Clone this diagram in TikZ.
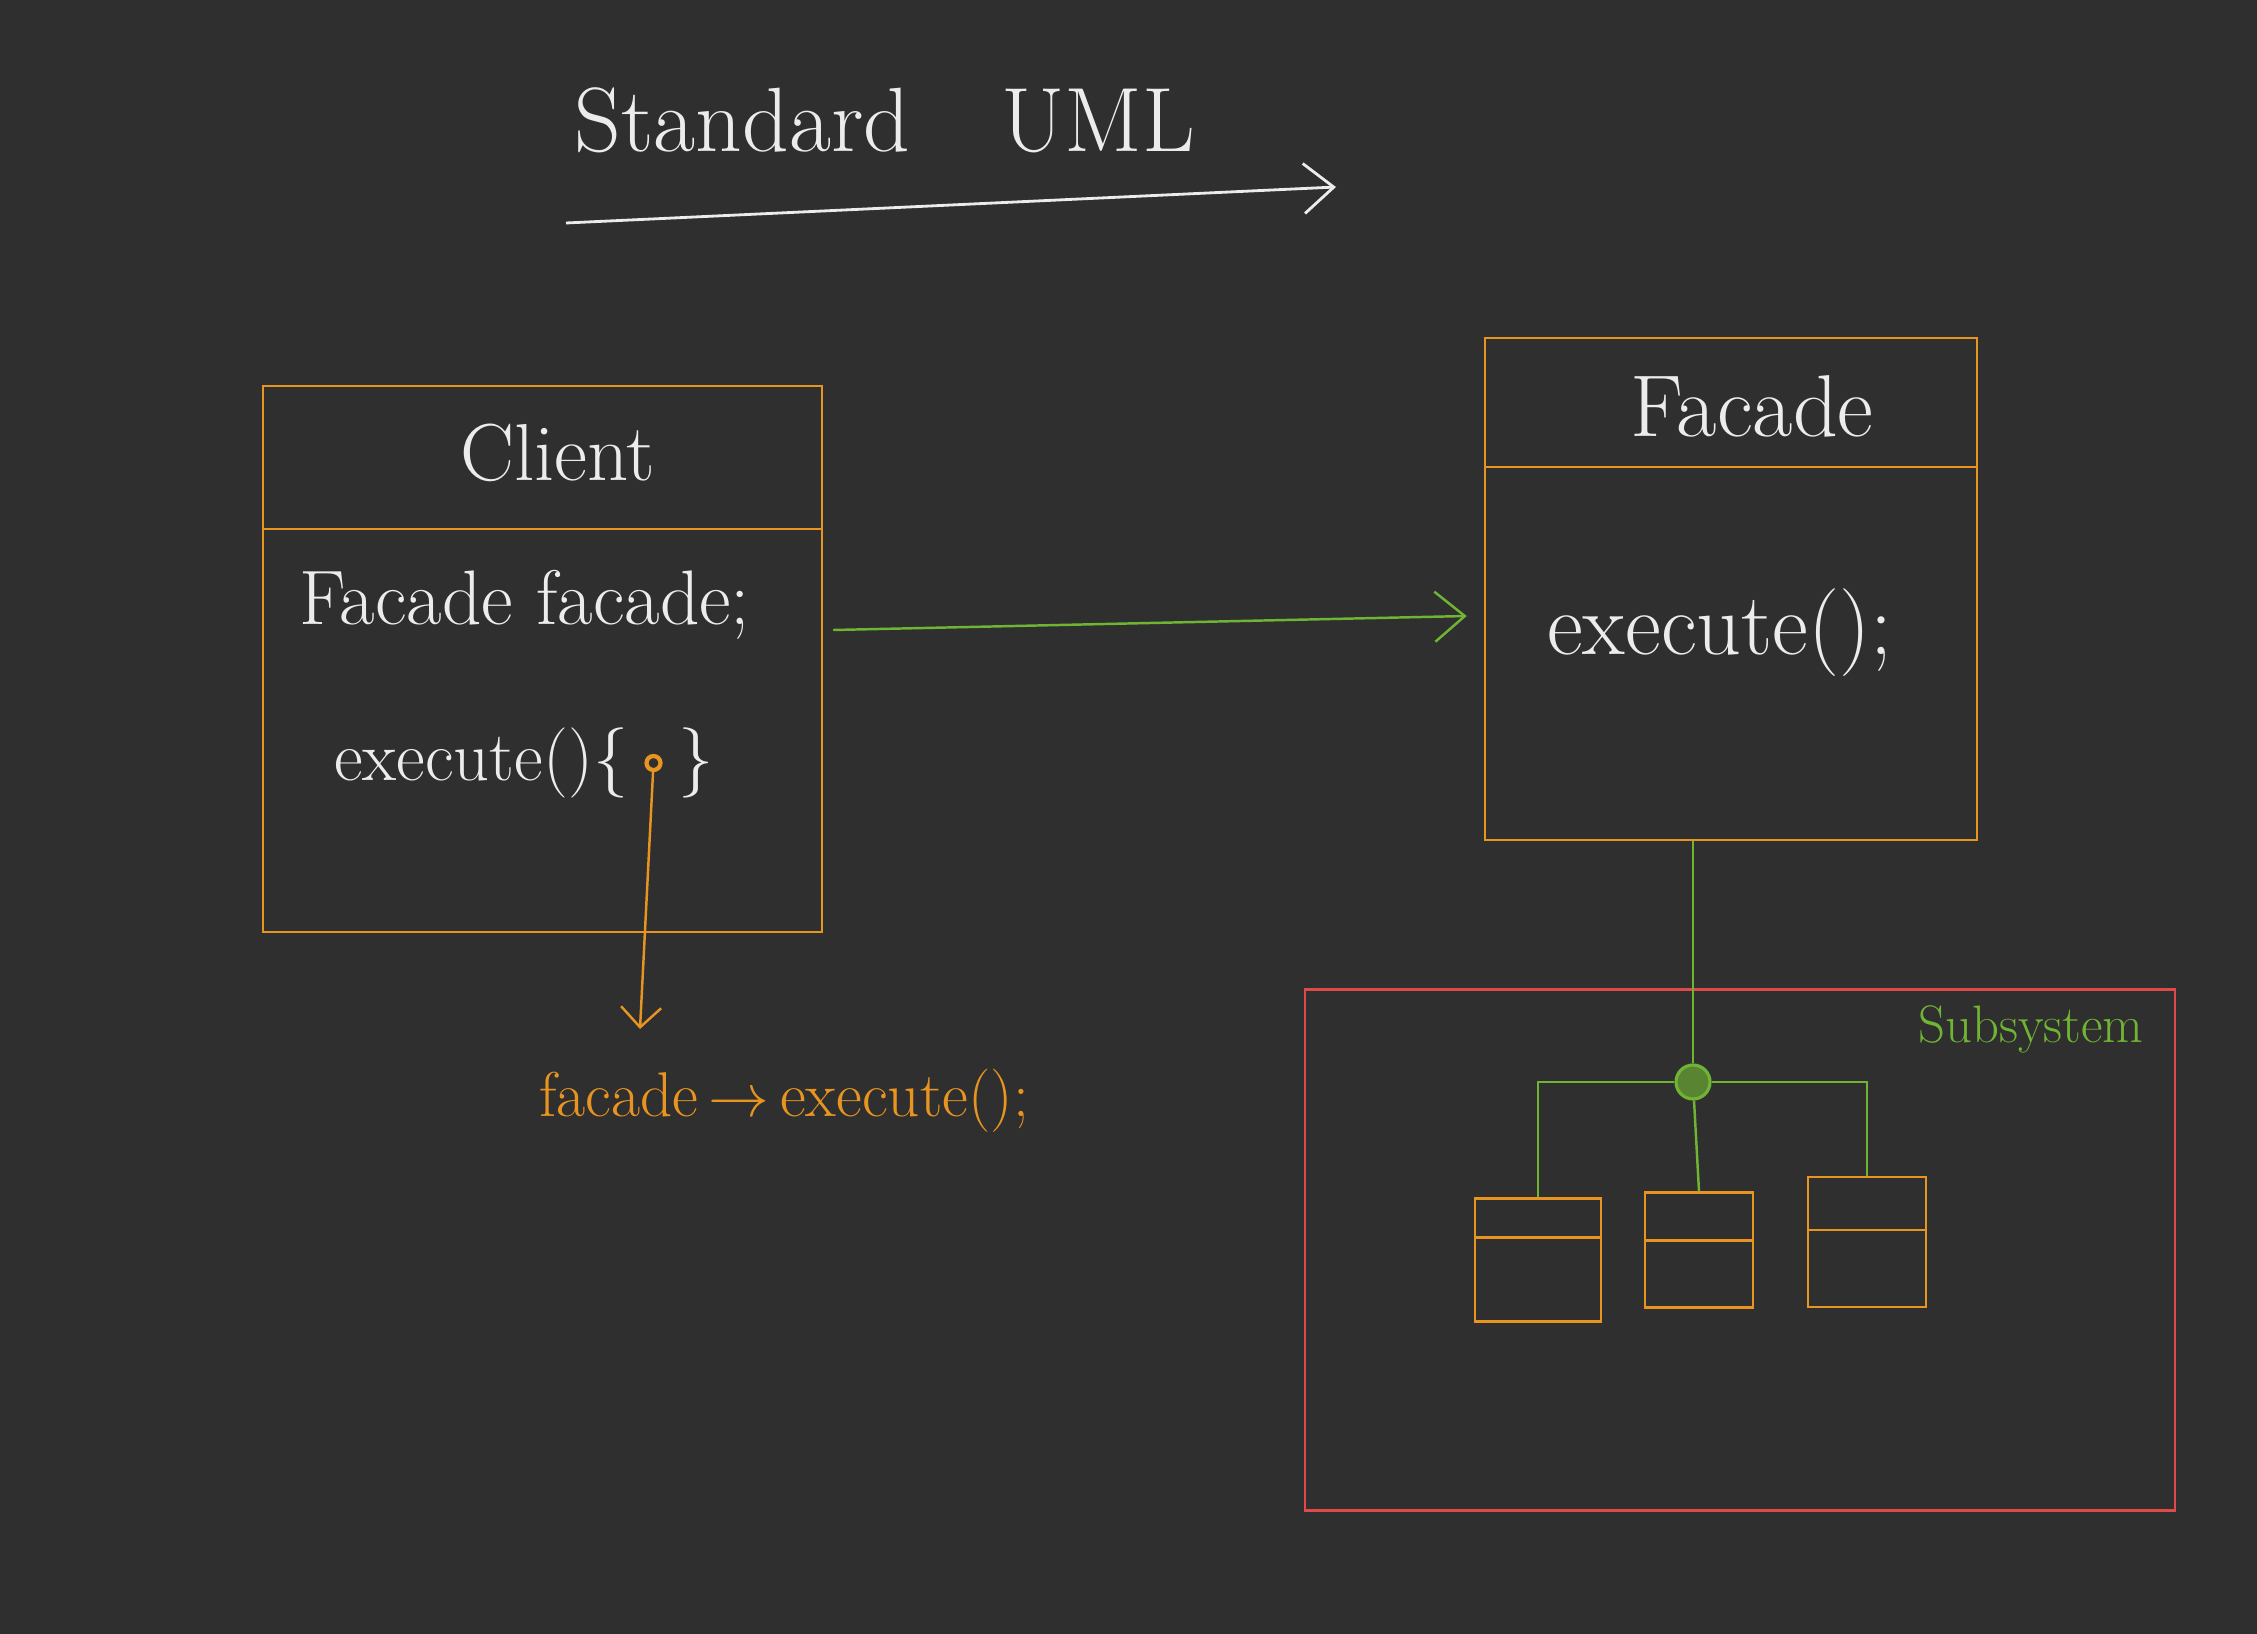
\documentclass[tikz,border=0pt]{standalone}
\usetikzlibrary{calc,positioning,arrows.meta}
\definecolor{board}{RGB}{47,47,47}
\definecolor{chalk}{RGB}{236,236,236}
\definecolor{pen}{RGB}{232,148,32}
\definecolor{leaf}{RGB}{112,180,52}
\definecolor{brick}{RGB}{222,74,74}

\begin{document}
\begin{tikzpicture}[
>={Straight Barb[length=3mm,width=5mm]},
classbox/.style={
	draw=pen,
	line width=0.7pt,
	rectangle,
	inner sep=0pt
},
groupbox/.style={
	draw=brick,
	line width=0.7pt,
	rectangle,
	inner sep=0pt
},
divider/.style={
	draw=pen,
	line width=0.7pt
},
heading/.style={
	text=chalk,
	inner sep=1pt,
	font=\fontsize{25}{30}\selectfont
},
member/.style={
	text=chalk,
	inner sep=1pt,
	font=\fontsize{20}{24}\selectfont
},
calldot/.style={
	circle,
	draw=pen,
	line width=1.2pt,
	minimum size=0.14cm,
	inner sep=0pt
},
hub/.style={
	circle,
	draw=leaf,
	fill=leaf!65!board,
	line width=0.9pt,
	minimum size=0.34cm,
	inner sep=0pt
},
underline/.style={
	draw=chalk,
	line width=0.8pt
},
assoc/.style={
	draw=leaf,
	line width=0.7pt
},
link/.style={
	draw=leaf,
	line width=0.7pt
},
call/.style={
	draw=pen,
	line width=0.7pt
}
]
\fill[board] (0,0) rectangle (22.57,-16.34);
\useasboundingbox (0,0) rectangle (22.57,-16.34);

\node[heading,font=\fontsize{26}{31}\selectfont] (title) at (8.85,-1.20) {Standard\quad UML};
\coordinate (titlefrom) at (5.66,-2.23);
\coordinate (titleto) at (13.36,-1.87);
\draw[underline,->] (titlefrom) -- (titleto);

\node[classbox,minimum width=5.59cm,minimum height=5.46cm] (client) at (5.425,-6.59) {};
\draw[divider] ($(client.north west)+(0,-1.44)$) -- ($(client.north east)+(0,-1.44)$);
\node[heading,font=\fontsize{23}{28}\selectfont] (clientname) at (5.58,-4.53) {Client};
\node[member,anchor=west,font=\fontsize{22}{26}\selectfont] (clientfield) at (2.95,-6.05) {Facade facade;};
\node[member,anchor=west] (clientcall) at (3.30,-7.63) {execute()\{};
\node[calldot,right=0.12 of clientcall] (dot) {};
\node[member,right=0.12 of dot] (clientbrace) {\}};

\node[classbox,minimum width=4.92cm,minimum height=5.02cm] (facade) at (17.31,-5.89) {};
\draw[divider] ($(facade.north west)+(0,-1.30)$) -- ($(facade.north east)+(0,-1.30)$);
\node[heading] (facadename) at (17.52,-4.06) {Facade};
\node[heading] (facadecall) at (17.20,-6.33) {execute();};

\draw[assoc,->] ($(client.east)+(0.1,0.29)$) -- ($(facade.west)+(-0.17,-0.27)$);

\node[member,text=pen,font=\fontsize{18}{21}\selectfont] (calltext) at (7.84,-11.01) {facade\,$\rightarrow$\,execute();};
\coordinate (callend) at (6.40,-10.29);
\draw[call,-{Straight Barb[length=2mm,width=4mm]}] (dot) -- (callend);

\node[groupbox,minimum width=8.70cm,minimum height=5.21cm] (subsystem) at (17.40,-12.50) {};
\node[member,text=leaf,font=\fontsize{15}{18}\selectfont] (subsystemname) at (20.31,-10.29) {Subsystem};

\node[hub] (hub) at (16.93,-10.82) {};
\draw[link] (hub |- facade.south) -- (hub);

\foreach \i/\x/\y/\w/\h/\d in {1/15.38/-12.60/1.26/1.23/0.40,2/16.99/-12.50/1.08/1.15/0.49,3/18.67/-12.42/1.18/1.30/0.54}
{
\node[classbox,minimum width=\w cm,minimum height=\h cm] (part\i) at (\x,\y) {};
\draw[divider] ($(part\i.north west)+(0,-\d)$) -- ($(part\i.north east)+(0,-\d)$);
}

\draw[link] (hub) -| (part1.north);
\draw[link] (hub) -- (part2.north);
\draw[link] (hub) -| (part3.north);
\end{tikzpicture}
\end{document}
